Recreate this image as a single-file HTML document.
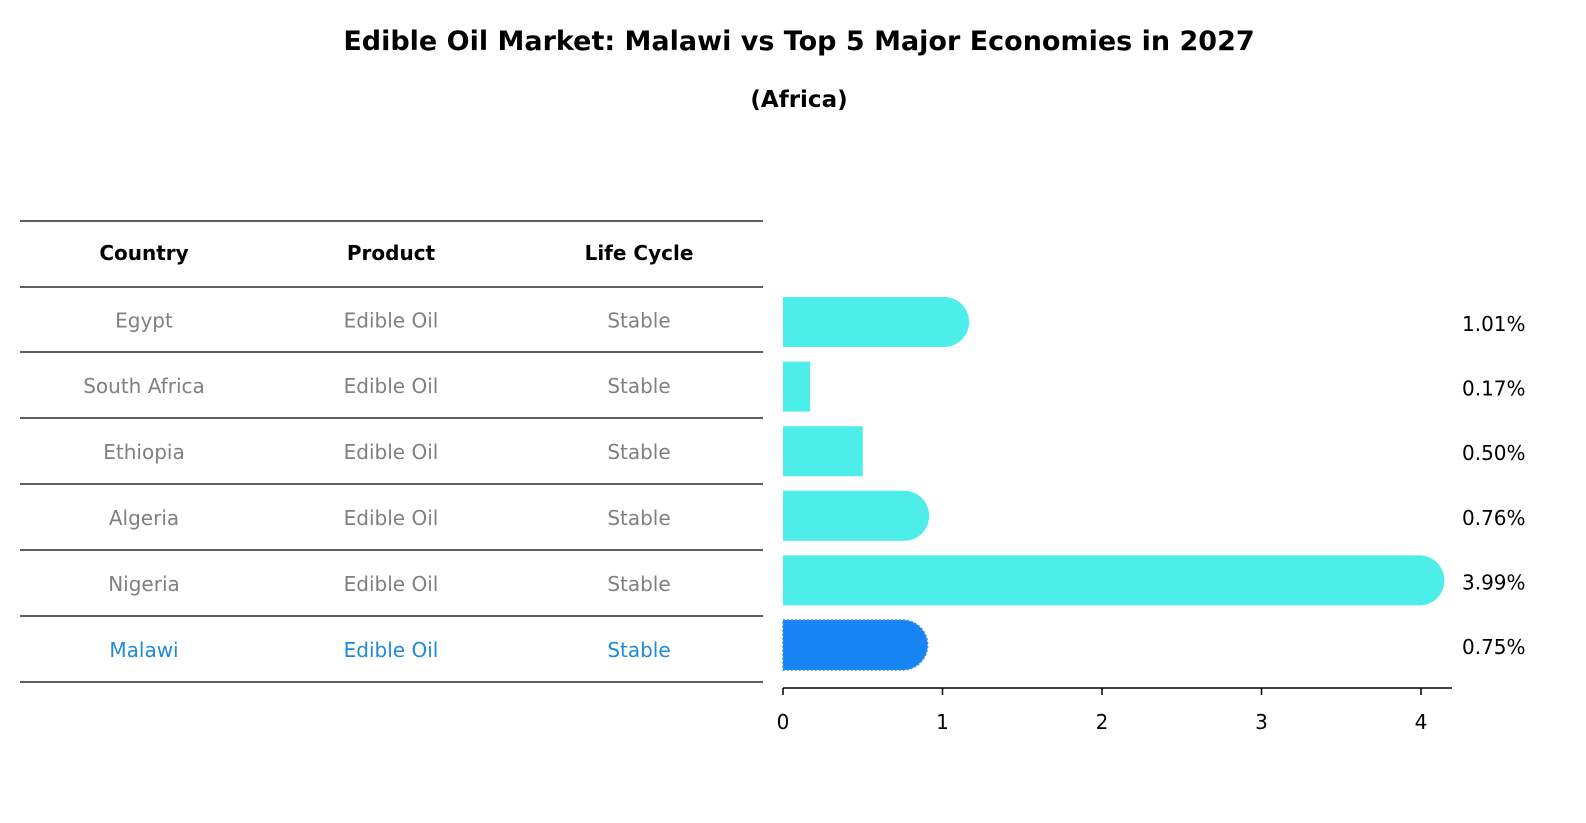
<!DOCTYPE html>
<html><head><meta charset="utf-8"><style>
html,body{margin:0;padding:0;background:#fff;overflow:hidden;width:1586px;height:823px;font-family:"Liberation Sans","DejaVu Sans",sans-serif}
svg{display:block}
</style></head><body>
<svg width="1586" height="823" xmlns="http://www.w3.org/2000/svg" font-family="DejaVu Sans, Liberation Sans, sans-serif">
<text x="799" y="50" text-anchor="middle" font-size="27" font-weight="bold">Edible Oil Market: Malawi vs Top 5 Major Economies in 2027</text>
<text x="799" y="107" text-anchor="middle" font-size="23" font-weight="bold">(Africa)</text>
<g id="table"></g>
<g id="bars"></g>
</svg>
<script>
const countries=["Egypt","South Africa","Ethiopia","Algeria","Nigeria","Malawi"];
const products=["Edible Oil","Edible Oil","Edible Oil","Edible Oil","Edible Oil","Edible Oil"];
const lifecycle=["Stable","Stable","Stable","Stable","Stable","Stable"];
const values=[1.01,0.17,0.50,0.76,3.99,0.75];
const ticks=[0,1,2,3,4];
const NS="http://www.w3.org/2000/svg";
function mk(t,a,p){const e=document.createElementNS(NS,t);for(const k in a)e.setAttribute(k,a[k]);p.appendChild(e);return e;}
const tbl=document.getElementById('table'),bars=document.getElementById('bars');
const lineY=[221,287,352,418,484,550,616,682];
const colX=[144,391,639];
lineY.forEach(y=>{const l=mk('line',{x1:20,x2:763,y1:y,y2:y,stroke:'#000','stroke-width':1.2},tbl);

});
["Country","Product","Life Cycle"].forEach((h,i)=>{const t=mk('text',{x:colX[i],y:260,'text-anchor':'middle','font-size':20,'font-weight':'bold'},tbl);t.textContent=h;

});
const xs=v=>783+v*159.5;
const rowY=i=>322+i*64.6;
countries.forEach((c,i)=>{
 const last=i===countries.length-1;
 const col=last?'#1f8ad8':'#808080';
 const ty=(lineY[i+1]+lineY[i+2])/2+8;
 [c,products[i],lifecycle[i]].forEach((s,j)=>{const t=mk('text',{x:colX[j],y:ty,'text-anchor':'middle','font-size':20,fill:col},tbl);t.textContent=s;
 
 });
 const cy=rowY(i),h=50,x0=xs(0),x1=xs(values[i]);
 const fill=last?'#1885F5':'#4DEEEA';
 let d;
 if(values[i]>0.6){d=`M${x0},${cy-h/2}H${x1}A${h/2},${h/2} 0 0 1 ${x1},${cy+h/2}H${x0}Z`;}
 else d=`M${x0},${cy-h/2}H${x1}V${cy+h/2}H${x0}Z`;
 const b=mk('path',{d:d,fill:fill},bars);
 if(last){b.setAttribute('stroke','#3a8fe0');b.setAttribute('stroke-dasharray','2,2');b.setAttribute('stroke-width','1.5');}
 
 
 const t=mk('text',{x:1462,y:cy+9,'font-size':20},bars);t.textContent=values[i].toFixed(2)+'%';
 
 
});
const ax=mk('line',{x1:783,x2:1452,y1:688,y2:688,stroke:'#000','stroke-width':1.5},bars);


ticks.forEach(v=>{const l=mk('line',{x1:xs(v),x2:xs(v),y1:688,y2:695,stroke:'#000','stroke-width':1.5},bars);


const t=mk('text',{x:xs(v),y:729,'text-anchor':'middle','font-size':20},bars);t.textContent=v;

});
</script>
</body></html>
